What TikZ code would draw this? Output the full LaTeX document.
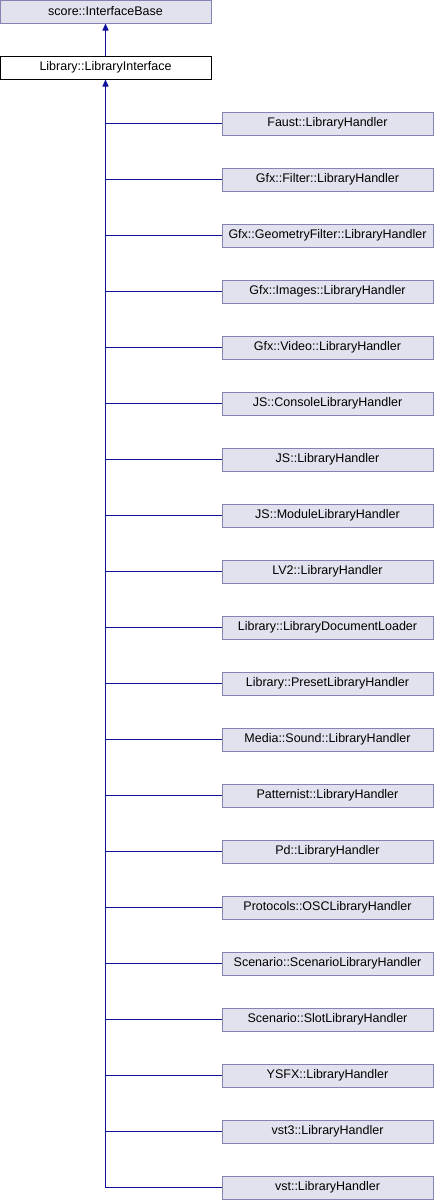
\documentclass[tikz,border=0pt]{standalone}
\usepackage{fontspec}
\setmainfont{Liberation Sans}
\usetikzlibrary{arrows.meta}
\definecolor{boxfill}{HTML}{E2E2EE}
\definecolor{boxline}{HTML}{8484B4}
\definecolor{edgeblue}{HTML}{10109A}
\tikzset{
  classbox/.style={draw=boxline,fill=boxfill,line width=1pt,minimum width=211pt,minimum height=23pt,inner sep=0pt,font=\fontsize{12.5}{14}\selectfont},
  mainbox/.style={classbox,draw=black,fill=white},
  edge/.style={draw=edgeblue,line width=1pt},
  inherit/.style={edge,-{Triangle[length=7pt,width=6pt]}}
}
\begin{document}
\begin{tikzpicture}[x=1pt,y=-1pt]
\useasboundingbox (0,0) rectangle (434,1200);
% bases
\node[classbox] (base) at (105.5,11.5) {score::InterfaceBase};
\node[mainbox] (lib) at (105.5,67.5) {Library::LibraryInterface};
\draw[inherit] (lib.north) -- (base.south);

% derived classes
\node[classbox] (faust) at (327.5,123.5) {Faust::LibraryHandler};
\node[classbox] (gfxfilter) at (327.5,179.5) {Gfx::Filter::LibraryHandler};
\node[classbox] (gfxgeom) at (327.5,235.5) {Gfx::GeometryFilter::LibraryHandler};
\node[classbox] (gfximages) at (327.5,291.5) {Gfx::Images::LibraryHandler};
\node[classbox] (gfxvideo) at (327.5,347.5) {Gfx::Video::LibraryHandler};
\node[classbox] (jsconsole) at (327.5,403.5) {JS::ConsoleLibraryHandler};
\node[classbox] (js) at (327.5,459.5) {JS::LibraryHandler};
\node[classbox] (jsmodule) at (327.5,515.5) {JS::ModuleLibraryHandler};
\node[classbox] (lvtwo) at (327.5,571.5) {LV2::LibraryHandler};
\node[classbox] (libdoc) at (327.5,627.5) {Library::LibraryDocumentLoader};
\node[classbox] (libpreset) at (327.5,683.5) {Library::PresetLibraryHandler};
\node[classbox] (mediasound) at (327.5,739.5) {Media::Sound::LibraryHandler};
\node[classbox] (patternist) at (327.5,795.5) {Patternist::LibraryHandler};
\node[classbox] (pd) at (327.5,851.5) {Pd::LibraryHandler};
\node[classbox] (osc) at (327.5,907.5) {Protocols::OSCLibraryHandler};
\node[classbox] (scenario) at (327.5,963.5) {Scenario::ScenarioLibraryHandler};
\node[classbox] (slot) at (327.5,1019.5) {Scenario::SlotLibraryHandler};
\node[classbox] (ysfx) at (327.5,1075.5) {YSFX::LibraryHandler};
\node[classbox] (vstthree) at (327.5,1131.5) {vst3::LibraryHandler};
\node[classbox] (vst) at (327.5,1187.5) {vst::LibraryHandler};

% trunk
\draw[inherit] (vst.west -| lib.south) -- (lib.south);
% branches
\foreach \n in {faust,gfxfilter,gfxgeom,gfximages,gfxvideo,jsconsole,js,jsmodule,lvtwo,libdoc,libpreset,mediasound,patternist,pd,osc,scenario,slot,ysfx,vstthree,vst}
  \draw[edge] (\n.west) -- (\n.west -| lib.south);
\end{tikzpicture}
\end{document}
